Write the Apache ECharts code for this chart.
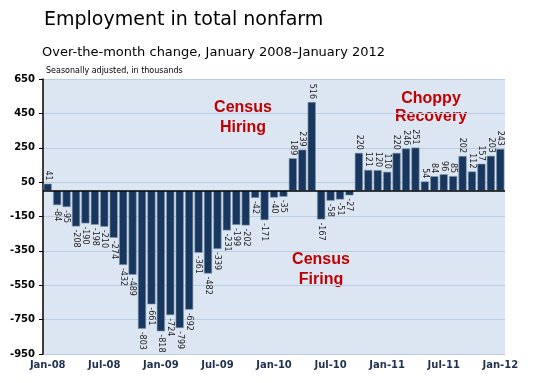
<!DOCTYPE html>
<html><head><meta charset="utf-8">
<script src="https://cdn.jsdelivr.net/npm/echarts@6/dist/echarts.min.js"></script>
<style>html,body{margin:0;padding:0;background:#fff}#c{width:539px;height:383px}</style>
</head><body><div id="c"></div>
<script>
var months = ['Jan-08','Feb-08','Mar-08','Apr-08','May-08','Jun-08','Jul-08','Aug-08','Sep-08','Oct-08','Nov-08','Dec-08',
'Jan-09','Feb-09','Mar-09','Apr-09','May-09','Jun-09','Jul-09','Aug-09','Sep-09','Oct-09','Nov-09','Dec-09',
'Jan-10','Feb-10','Mar-10','Apr-10','May-10','Jun-10','Jul-10','Aug-10','Sep-10','Oct-10','Nov-10','Dec-10',
'Jan-11','Feb-11','Mar-11','Apr-11','May-11','Jun-11','Jul-11','Aug-11','Sep-11','Oct-11','Nov-11','Dec-11','Jan-12'];
var changes = [41,-84,-95,-208,-190,-198,-210,-274,-432,-489,-803,-661,
-818,-724,-799,-692,-361,-482,-339,-231,-199,-202,-42,-171,
-40,-35,189,239,516,-167,-58,-51,-27,220,121,120,
110,220,246,251,54,84,96,85,202,112,157,203,243];
var yMin = -950, yMax = 650, yStep = 200;
var yTicks = [-950,-750,-550,-350,-150,50,250,450,650];

var chart = echarts.init(document.getElementById('c'));
var data = changes.map(function(v){
  return {value: v, label: v >= 0 ? {position:'top', align:'right'} : {position:'bottom', align:'left'}};
});
chart.setOption({
  animation:false,
  title:[
    {text:'Employment in total nonfarm', left:39, top:6, textStyle:{fontFamily:'DejaVu Sans', fontSize:19, fontWeight:'normal', color:'#000'}},
    {text:'Over-the-month change, January 2008\u2013January 2012', left:37, top:41, textStyle:{fontFamily:'DejaVu Sans', fontSize:13, fontWeight:'normal', color:'#000'}},
    {text:'Seasonally adjusted, in thousands', left:41, top:62, textStyle:{fontFamily:'DejaVu Sans', fontSize:8, fontWeight:'normal', color:'#000'}}
  ],
  grid:{left:43, right:34, top:79, bottom:29, show:true, backgroundColor:'#dce6f2', borderWidth:0},
  xAxis:{type:'category', data:months, boundaryGap:true,
    axisLine:{show:false, onZero:false}, axisTick:{show:false},
    axisLabel:{interval:5, color:'#1f3050', fontFamily:'DejaVu Sans', fontWeight:'bold', fontSize:10, margin:6}},
  yAxis:[
    {type:'value', min:yMin, max:yMax, show:false, splitLine:{show:false}},
    {type:'value', min:0, max:yMax-yMin, interval:yStep, position:'left',
      axisLine:{show:true, lineStyle:{color:'#000', width:1.5}},
      axisTick:{show:true, length:4, lineStyle:{color:'#000'}},
      splitLine:{show:true, lineStyle:{color:'#b9cde5', width:1}},
      axisLabel:{formatter:function(v){return String(yTicks[Math.round(v/yStep)]);}, color:'#000', fontFamily:'DejaVu Sans', fontWeight:'bold', fontSize:10, margin:8}}
  ],
  series:[{
    type:'bar', yAxisIndex:0, data:data, barCategoryGap:'14%',
    itemStyle:{color:'#17375e', borderColor:'#8597ad', borderWidth:0.6},
    label:{show:true, rotate:-90, verticalAlign:'middle', distance:3, fontSize:8, fontFamily:'DejaVu Sans', color:'#222'},
    markLine:{silent:true, symbol:'none', label:{show:false}, lineStyle:{color:'#000', width:1.5, type:'solid'}, data:[{yAxis:0}]}
  }],
  graphic:[
    {type:'text', style:{text:'Census\nHiring', x:243, y:98, align:'center', verticalAlign:'top', font:'bold 16px "Liberation Sans"', fill:'#c00000', lineHeight:20}},
    {type:'text', style:{text:'Census\nFiring', x:321, y:250, align:'center', verticalAlign:'top', font:'bold 16px "Liberation Sans"', fill:'#c00000', lineHeight:20}},
    {type:'text', style:{text:'Choppy\nRecovery', x:431, y:90, align:'center', verticalAlign:'top', font:'bold 16px "Liberation Sans"', fill:'#c00000', lineHeight:18}}
  ]
});
</script></body></html>
